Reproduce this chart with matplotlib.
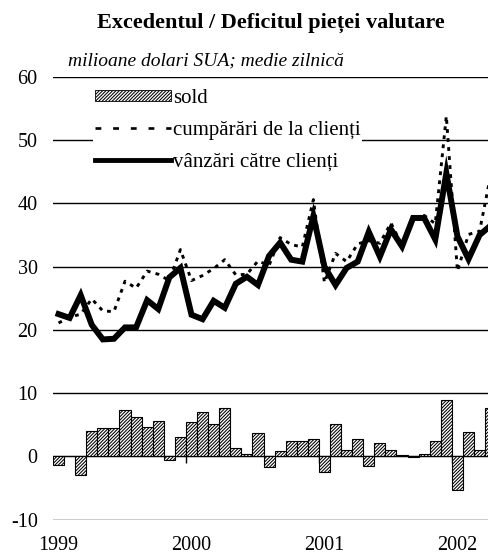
import numpy as np
import matplotlib
matplotlib.use("Agg")
import matplotlib.pyplot as plt
from matplotlib.lines import Line2D
from matplotlib.patches import Patch

# monthly data, Jan 1999 - Apr 2002
vanzari = [22.5, 21.9, 25.5, 20.8, 18.5, 18.6, 20.4, 20.4, 24.7, 23.3, 28.3, 29.8,
           22.4, 21.7, 24.6, 23.5, 27.3, 28.4, 27.1, 31.7, 33.8, 31.1, 30.8, 38.0,
           30.0, 27.1, 29.8, 30.8, 35.5, 31.6, 35.9, 33.2, 37.7, 37.7, 34.3, 44.8,
           34.8, 31.2, 35.0, 36.5]
cumparari = [21.1, 22.0, 22.5, 24.9, 23.0, 22.9, 27.7, 26.6, 29.3, 28.8, 27.8, 32.7,
             27.8, 28.6, 29.7, 31.1, 28.7, 28.8, 30.9, 30.2, 34.6, 33.5, 33.1, 40.6,
             27.5, 32.1, 30.8, 33.6, 34.1, 33.7, 36.9, 33.4, 37.5, 38.1, 36.8, 53.8,
             29.3, 35.1, 35.6, 44.5]
sold = [-1.4, 0.1, -3.0, 4.0, 4.5, 4.5, 7.3, 6.2, 4.6, 5.6, -0.5, 3.0,
        5.4, 7.0, 5.1, 7.6, 1.3, 0.4, 3.7, -1.6, 0.8, 2.5, 2.5, 2.7,
        -2.5, 5.1, 1.0, 2.7, -1.5, 2.2, 1.0, 0.15, -0.15, 0.4, 2.5, 9.0,
        -5.3, 3.9, 1.0, 7.7]
years = ['1999', '2000', '2001', '2002']

plt.rcParams['font.family'] = ['Liberation Serif', 'DejaVu Serif']
plt.rcParams['hatch.linewidth'] = 0.75
plt.rcParams['axes.unicode_minus'] = False

W, H = 488, 557
fig = plt.figure(figsize=(W / 100, H / 100), dpi=100)
ax = fig.add_axes([53 / W, 1 - 519.7 / H, (W - 53) / W, (519.7 - 76.9) / H])

x = np.arange(len(sold))
ax.bar(x, sold, width=1.0, facecolor='white', edgecolor='black',
       hatch='//////////', linewidth=0.8, zorder=2)
ax.plot(x, cumparari, color='black', lw=2.1, dashes=(1.3, 1.8), zorder=3)
ax.plot(x, vanzari, color='black', lw=4.3, solid_joinstyle='miter', zorder=4)

# year boundary ticks on the zero line
bounds = np.arange(12, len(sold), 12) - 0.5
ax.vlines(bounds, -1.1, 0, color='black', lw=1, zorder=1)

ax.set_xlim(-0.5, -0.5 + (W - 53) / 11.08)
ax.set_ylim(-10, 60)
ax.set_yticks(range(-10, 61, 10))
ax.set_xticks(np.arange(0, len(sold), 12))
ax.set_xticklabels(years)
ax.tick_params(axis='both', length=0, labelsize=14.5)
ax.tick_params(axis='y', pad=11)
ax.tick_params(axis='x', pad=12)
ax.grid(axis='y', color='black', lw=1)
ax.set_axisbelow(True)
for s in ax.spines.values():
    s.set_visible(False)

handles = [Patch(facecolor='white', edgecolor='black', hatch='//////////', lw=0.6),
           Line2D([], [], color='black', lw=1.9, dashes=(2.2, 4.5)),
           Line2D([], [], color='black', lw=3.5)]
labels = ['sold', 'cumpărări de la clienți', 'vânzări către clienți']
leg = fig.legend(handles, labels, loc='upper left',
                 bbox_to_anchor=(93 / W, 1 - 87 / H), fontsize=15,
                 handlelength=3.65, handleheight=0.45, handletextpad=0.08,
                 labelspacing=0.62, borderpad=0.1, borderaxespad=0,
                 frameon=True, fancybox=False, framealpha=1)
leg.get_frame().set_edgecolor('none')
leg.get_frame().set_facecolor('white')

fig.text(271 / W, 1 - 23 / H, 'Excedentul / Deficitul pieței valutare',
         ha='center', va='center', fontsize=16, fontweight='bold')
fig.text(68 / W, 1 - 61 / H, 'milioane dolari SUA; medie zilnică',
         ha='left', va='center', fontsize=14, style='italic')

fig.savefig('out.png', dpi=100)
